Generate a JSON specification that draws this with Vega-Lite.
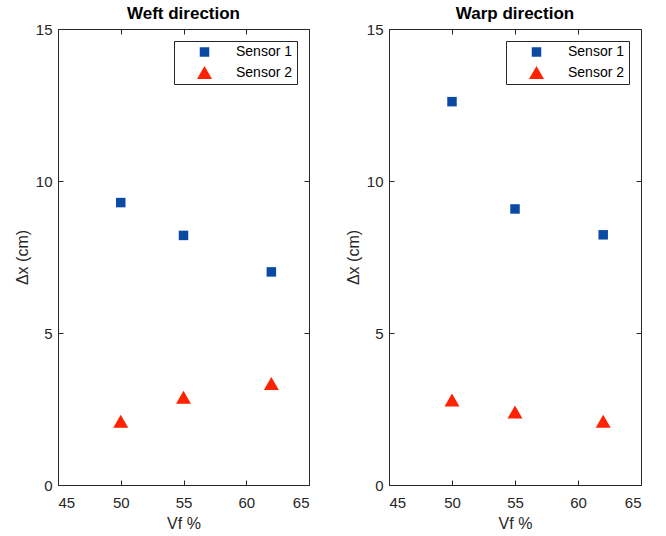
{
  "$schema": "https://vega.github.io/schema/vega-lite/v6.json",
  "background": "white",
  "padding": {"left": 13, "top": 4, "right": 5, "bottom": 2},
  "bounds": "flush",
  "spacing": 80,
  "data": {"values": [
    {"direction": "Weft", "sensor": "Sensor 1", "vf": 50, "dx": 9.29},
    {"direction": "Weft", "sensor": "Sensor 1", "vf": 55, "dx": 8.21},
    {"direction": "Weft", "sensor": "Sensor 1", "vf": 62, "dx": 7.01},
    {"direction": "Weft", "sensor": "Sensor 2", "vf": 50, "dx": 2.1},
    {"direction": "Weft", "sensor": "Sensor 2", "vf": 55, "dx": 2.89},
    {"direction": "Weft", "sensor": "Sensor 2", "vf": 62, "dx": 3.34},
    {"direction": "Warp", "sensor": "Sensor 1", "vf": 50, "dx": 12.61},
    {"direction": "Warp", "sensor": "Sensor 1", "vf": 55, "dx": 9.08},
    {"direction": "Warp", "sensor": "Sensor 1", "vf": 62, "dx": 8.23},
    {"direction": "Warp", "sensor": "Sensor 2", "vf": 50, "dx": 2.8},
    {"direction": "Warp", "sensor": "Sensor 2", "vf": 55, "dx": 2.4},
    {"direction": "Warp", "sensor": "Sensor 2", "vf": 62, "dx": 2.1}
  ]},
  "config": {
    "font": "Liberation Sans",
    "view": {"stroke": "#262626", "strokeWidth": 1},
    "title": {"fontSize": 17, "fontWeight": "bold", "color": "#000000", "offset": -1, "anchor": "middle", "font": "Liberation Sans"},
    "axis": {
      "grid": false,
      "domain": false,
      "tickColor": "#262626",
      "tickSize": -5,
      "labelColor": "#262626",
      "labelFont": "Liberation Sans",
      "labelFontSize": 15,
      "titleFont": "Liberation Sans",
      "titleFontSize": 16,
      "titleFontWeight": "normal",
      "titleColor": "#262626"
    },
    "axisX": {"labelPadding": 15, "titlePadding": 5},
    "axisY": {"labelPadding": 11, "titlePadding": 5},
    "legend": {
      "orient": "top-right",
      "offset": 12,
      "title": null,
      "strokeColor": "#262626",
      "fillColor": "white",
      "padding": 4,
      "symbolOffset": 19,
      "labelOffset": 24,
      "rowPadding": 6,
      "labelFont": "Liberation Sans",
      "labelFontSize": 14,
      "labelColor": "#000000",
      "symbolStrokeWidth": 0
    }
  },
  "hconcat": [
    {
      "title": "Weft direction",
      "width": 251,
      "height": 456,
      "transform": [{"filter": "datum.direction === 'Weft'"}],
      "layer": [
        {
          "mark": {"type": "point", "filled": true, "opacity": 1},
          "encoding": {
            "x": {"field": "vf", "type": "quantitative", "scale": {"domain": [45, 65]}, "axis": {"title": "Vf %", "values": [45, 50, 55, 60, 65]}},
            "y": {"field": "dx", "type": "quantitative", "scale": {"domain": [0, 15]}, "axis": {"title": "Δx (cm)", "values": [0, 5, 10, 15]}},
            "color": {"field": "sensor", "type": "nominal", "scale": {"range": ["#0a4aa5", "#ff2200"]}},
            "shape": {"field": "sensor", "type": "nominal", "scale": {"range": ["square", "triangle-up"]}},
            "size": {"field": "sensor", "type": "nominal", "scale": {"range": [90, 225]}}
          }
        },
        {
          "mark": {"type": "point", "opacity": 0},
          "encoding": {
            "x": {"field": "vf", "type": "quantitative", "scale": {"domain": [45, 65]}, "axis": {"title": null, "labels": false, "orient": "top", "values": [45, 50, 55, 60, 65]}},
            "y": {"field": "dx", "type": "quantitative", "scale": {"domain": [0, 15]}, "axis": {"title": null, "labels": false, "orient": "right", "values": [0, 5, 10, 15]}}
          }
        }
      ],
      "resolve": {"axis": {"x": "independent", "y": "independent"}}
    },
    {
      "title": "Warp direction",
      "width": 252,
      "height": 456,
      "transform": [{"filter": "datum.direction === 'Warp'"}],
      "layer": [
        {
          "mark": {"type": "point", "filled": true, "opacity": 1},
          "encoding": {
            "x": {"field": "vf", "type": "quantitative", "scale": {"domain": [45, 65]}, "axis": {"title": "Vf %", "values": [45, 50, 55, 60, 65]}},
            "y": {"field": "dx", "type": "quantitative", "scale": {"domain": [0, 15]}, "axis": {"title": "Δx (cm)", "values": [0, 5, 10, 15]}},
            "color": {"field": "sensor", "type": "nominal", "scale": {"range": ["#0a4aa5", "#ff2200"]}},
            "shape": {"field": "sensor", "type": "nominal", "scale": {"range": ["square", "triangle-up"]}},
            "size": {"field": "sensor", "type": "nominal", "scale": {"range": [90, 225]}}
          }
        },
        {
          "mark": {"type": "point", "opacity": 0},
          "encoding": {
            "x": {"field": "vf", "type": "quantitative", "scale": {"domain": [45, 65]}, "axis": {"title": null, "labels": false, "orient": "top", "values": [45, 50, 55, 60, 65]}},
            "y": {"field": "dx", "type": "quantitative", "scale": {"domain": [0, 15]}, "axis": {"title": null, "labels": false, "orient": "right", "values": [0, 5, 10, 15]}}
          }
        }
      ],
      "resolve": {"axis": {"x": "independent", "y": "independent"}}
    }
  ],
  "resolve": {"legend": {"color": "independent", "shape": "independent", "size": "independent"}}
}
